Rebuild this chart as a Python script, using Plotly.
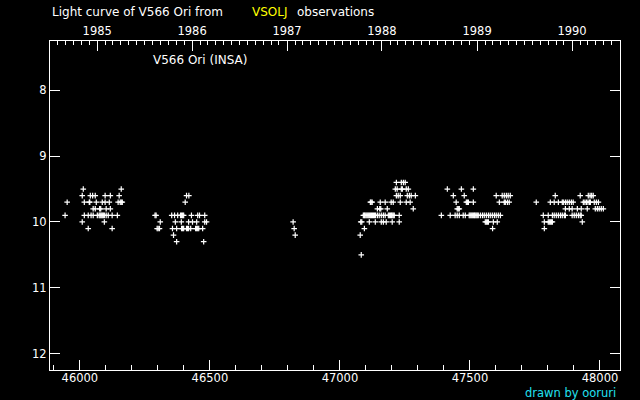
from datetime import date

import plotly.graph_objects as go

# JD - 2400000 and visual magnitude, one pair of lists per observing season
jd_1985 = [46013, 46159,
           46009, 46040, 46049, 46059, 46097, 46117, 46151,
           45951, 46017, 46036, 46038, 46063, 46086, 46097, 46113, 46147, 46155, 46159, 46163,
           46051, 46059, 46076, 46080, 46101, 46117,
           45943, 46017, 46032, 46043, 46051, 46067, 46074, 46078, 46082, 46086, 46090, 46094,
           46101, 46109, 46124, 46144,
           46009, 46094,
           46032, 46124]
mag_1985 = [9.5, 9.5,
            9.6, 9.6, 9.6, 9.6, 9.6, 9.6, 9.6,
            9.7, 9.7, 9.7, 9.7, 9.7, 9.7, 9.7, 9.7, 9.7, 9.7, 9.7, 9.7,
            9.8, 9.8, 9.8, 9.8, 9.8, 9.8,
            9.9, 9.9, 9.9, 9.9, 9.9, 9.9, 9.9, 9.9, 9.9, 9.9, 9.9, 9.9,
            9.9, 9.9, 9.9, 9.9,
            10.0, 10.0,
            10.1, 10.1]

jd_1986 = [46410, 46419,
           46405,
           46289, 46293, 46353, 46364, 46376, 46387, 46391, 46395, 46399, 46429, 46453, 46460, 46480,
           46309, 46367, 46390, 46418, 46433, 46449, 46480, 46487,
           46297, 46301, 46306, 46356, 46372, 46391, 46395, 46399, 46410, 46414, 46418, 46426,
           46445, 46449, 46453, 46457, 46472,
           46360,
           46372, 46476]
mag_1986 = [9.6, 9.6,
            9.7,
            9.9, 9.9, 9.9, 9.9, 9.9, 9.9, 9.9, 9.9, 9.9, 9.9, 9.9, 9.9, 9.9,
            10.0, 10.0, 10.0, 10.0, 10.0, 10.0, 10.0, 10.0,
            10.1, 10.1, 10.1, 10.1, 10.1, 10.1, 10.1, 10.1, 10.1, 10.1, 10.1, 10.1,
            10.1, 10.1, 10.1, 10.1, 10.1,
            10.2,
            10.3, 10.3]

jd_1987 = [46820, 46824, 46828]
mag_1987 = [10.0, 10.1, 10.2]

jd_1988 = [47217, 47236, 47244, 47251,
           47213, 47220, 47236, 47240, 47255, 47263,
           47217, 47224, 47232, 47259, 47267, 47274, 47290,
           47117, 47120, 47124, 47155, 47174, 47197, 47205, 47232, 47255, 47270,
           47144, 47153, 47157, 47182, 47282,
           47090, 47094, 47097, 47101, 47105, 47109, 47113, 47117, 47121, 47125, 47129, 47133,
           47137, 47144, 47151, 47159, 47167, 47174, 47186, 47190, 47194, 47198, 47201, 47205,
           47209, 47228,
           47080, 47084, 47113, 47136, 47159, 47167, 47178, 47201, 47228,
           47094,
           47078,
           47082]
mag_1988 = [9.4, 9.4, 9.4, 9.4,
            9.5, 9.5, 9.5, 9.5, 9.5, 9.5,
            9.6, 9.6, 9.6, 9.6, 9.6, 9.6, 9.6,
            9.7, 9.7, 9.7, 9.7, 9.7, 9.7, 9.7, 9.7, 9.7, 9.7,
            9.8, 9.8, 9.8, 9.8, 9.8,
            9.9, 9.9, 9.9, 9.9, 9.9, 9.9, 9.9, 9.9, 9.9, 9.9, 9.9, 9.9,
            9.9, 9.9, 9.9, 9.9, 9.9, 9.9, 9.9, 9.9, 9.9, 9.9, 9.9, 9.9,
            9.9, 9.9,
            10.0, 10.0, 10.0, 10.0, 10.0, 10.0, 10.0, 10.0, 10.0,
            10.1,
            10.2,
            10.5]

jd_1989 = [47413, 47467, 47513,
           47436, 47478, 47601, 47624, 47632, 47640, 47647, 47655,
           47447, 47486, 47490, 47494, 47513, 47613, 47632, 47636, 47644, 47651,
           47451, 47455, 47459,
           47390, 47424, 47443, 47451, 47459, 47474, 47482, 47497, 47501, 47505, 47509, 47513,
           47517, 47520, 47524, 47528, 47532, 47540, 47548, 47555, 47563, 47571, 47578, 47586,
           47594, 47601, 47609, 47617,
           47559, 47563, 47567, 47571, 47590, 47605,
           47587]
mag_1989 = [9.5, 9.5, 9.5,
            9.6, 9.6, 9.6, 9.6, 9.6, 9.6, 9.6, 9.6,
            9.7, 9.7, 9.7, 9.7, 9.7, 9.7, 9.7, 9.7, 9.7, 9.7,
            9.8, 9.8, 9.8,
            9.9, 9.9, 9.9, 9.9, 9.9, 9.9, 9.9, 9.9, 9.9, 9.9, 9.9, 9.9,
            9.9, 9.9, 9.9, 9.9, 9.9, 9.9, 9.9, 9.9, 9.9, 9.9, 9.9, 9.9,
            9.9, 9.9, 9.9, 9.9,
            10.0, 10.0, 10.0, 10.0, 10.0, 10.0,
            10.1]

jd_1990 = [47828, 47924, 47955, 47962, 47968, 47974,
           47755, 47809, 47824, 47840, 47855, 47859, 47867, 47874, 47882, 47890, 47897, 47936,
           47942, 47948, 47954, 47960, 47963, 47978, 47986, 47994,
           47867, 47882, 47893, 47913, 47928, 47951, 47982, 47990, 47997, 48005, 48013,
           47782, 47801, 47817, 47824, 47832, 47840, 47848, 47855, 47863, 47867, 47893, 47901,
           47909, 47917, 47924, 47928,
           47786, 47801, 47805, 47809, 47813, 47817, 47932,
           47786]
mag_1990 = [9.6, 9.6, 9.6, 9.6, 9.6, 9.6,
            9.7, 9.7, 9.7, 9.7, 9.7, 9.7, 9.7, 9.7, 9.7, 9.7, 9.7, 9.7,
            9.7, 9.7, 9.7, 9.7, 9.7, 9.7, 9.7, 9.7,
            9.8, 9.8, 9.8, 9.8, 9.8, 9.8, 9.8, 9.8, 9.8, 9.8, 9.8,
            9.9, 9.9, 9.9, 9.9, 9.9, 9.9, 9.9, 9.9, 9.9, 9.9, 9.9, 9.9,
            9.9, 9.9, 9.9, 9.9,
            10.0, 10.0, 10.0, 10.0, 10.0, 10.0, 10.0,
            10.1]

jd_ticks = [46000, 46500, 47000, 47500, 48000]
mag_ticks = [8, 9, 10, 11, 12]
years = [1985, 1986, 1987, 1988, 1989, 1990]


def to_jd(d):
    # JD - 2400000 at 0h UT
    return (d - date(1858, 11, 17)).days + 0.5


year_pos = [to_jd(date(y, 1, 1)) for y in years]
month_pos = [to_jd(date(y, m, 1)) for y in range(1984, 1991) for m in range(1, 13)]
x_range = [45885, 48077]

FONT = "DejaVu Sans"

fig = go.Figure()
seasons = [(jd_1985, mag_1985), (jd_1986, mag_1986), (jd_1987, mag_1987),
           (jd_1988, mag_1988), (jd_1989, mag_1989), (jd_1990, mag_1990)]
for xs, ys in seasons:
    fig.add_trace(go.Scatter(
        x=xs, y=ys, mode="markers", showlegend=False, hoverinfo="skip",
        marker=dict(symbol="cross-thin", size=4, line=dict(color="white", width=1.2)),
    ))

# invisible trace so the top year axis is drawn
fig.add_trace(go.Scatter(x=x_range, y=[12, 12], xaxis="x2", mode="markers",
                         marker=dict(opacity=0), showlegend=False, hoverinfo="skip"))

axis_font = dict(family=FONT, size=11.5, color="white")
fig.update_layout(
    width=640, height=400,
    margin=dict(l=50, r=20, t=41, b=30, autoexpand=False),
    paper_bgcolor="black", plot_bgcolor="black",
    font=axis_font,
    xaxis=dict(
        range=x_range, showgrid=False, zeroline=False, automargin=False,
        showline=True, linecolor="white", linewidth=1,
        ticks="inside", ticklen=10, tickcolor="white", tickwidth=1,
        tickmode="array", tickvals=jd_ticks, ticktext=[str(v) for v in jd_ticks],
        ticklabelstandoff=-3,
        minor=dict(dtick=100, tick0=46000, ticks="inside", ticklen=5,
                   tickcolor="white", showgrid=False),
        tickfont=axis_font,
    ),
    xaxis2=dict(
        overlaying="x", side="top", range=x_range, showgrid=False, zeroline=False,
        automargin=False,
        showline=True, linecolor="white", linewidth=1,
        ticks="inside", ticklen=10, tickcolor="white",
        tickmode="array", tickvals=year_pos, ticktext=[str(y) for y in years],
        minor=dict(tickmode="array", tickvals=month_pos, ticks="inside", ticklen=4,
                   tickcolor="white", showgrid=False),
        tickfont=axis_font,
    ),
    yaxis=dict(
        range=[12.25, 7.25], showgrid=False, zeroline=False, automargin=False,
        showline=True, linecolor="white", linewidth=1, mirror="ticks",
        ticks="inside", ticklen=10, tickcolor="white",
        tickmode="array", tickvals=mag_ticks, ticktext=[str(v) for v in mag_ticks],
        tickfont=axis_font,
    ),
    annotations=[
        dict(text="Light curve of V566 Ori from", xref="paper", yref="paper",
             x=0, y=1.088, xanchor="left", yanchor="middle", showarrow=False,
             font=dict(family=FONT, size=12, color="white")),
        dict(text="VSOLJ", xref="paper", yref="paper",
             x=(250 - 50) / 570, y=1.088, xanchor="left", yanchor="middle", showarrow=False,
             font=dict(family=FONT, size=12, color="#ffff00")),
        dict(text="observations", xref="paper", yref="paper",
             x=(295 - 50) / 570, y=1.088, xanchor="left", yanchor="middle", showarrow=False,
             font=dict(family=FONT, size=12, color="white")),
        dict(text="V566 Ori (INSA)", xref="paper", yref="paper",
             x=(151 - 50) / 570, y=0.942, xanchor="left", yanchor="middle", showarrow=False,
             font=dict(family=FONT, size=12, color="white")),
        dict(text="drawn by ooruri", xref="paper", yref="paper",
             x=(618 - 50) / 570, y=-0.069, xanchor="right", yanchor="middle", showarrow=False,
             font=dict(family=FONT, size=11.5, color="#22e0f0")),
    ],
)

# page body has a default 8px margin; drop it so the figure fills the window
fig.write_html("out.html", config={"displayModeBar": False},
               post_script="document.body.style.margin = '0';")
